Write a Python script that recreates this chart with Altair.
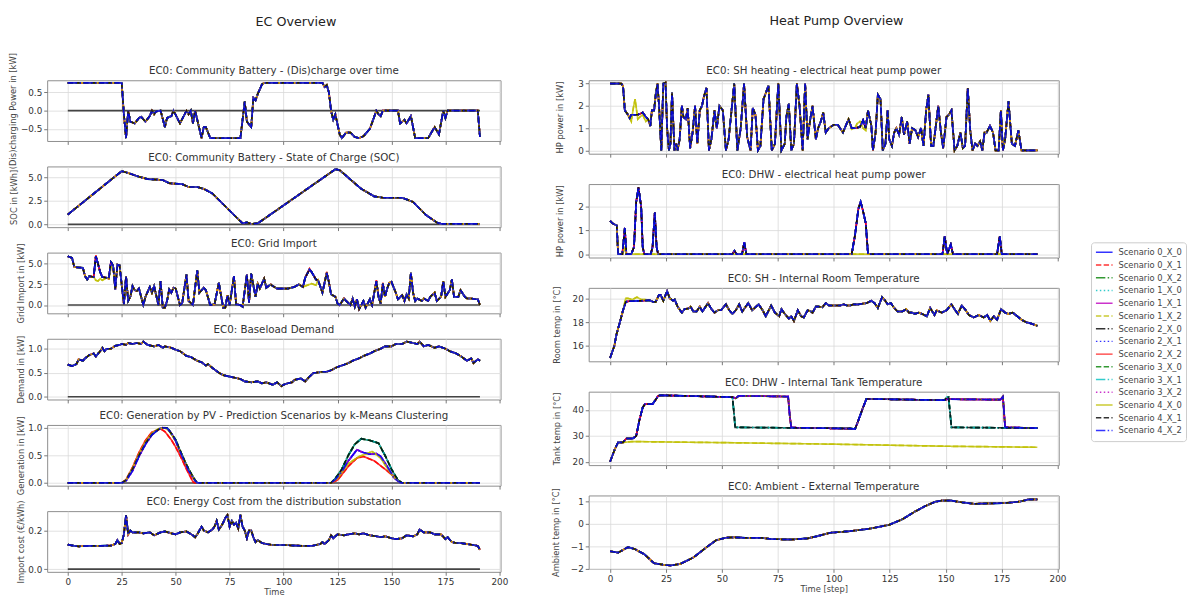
import altair as alt
import pandas as pd

SCENARIOS = ["Scenario 0_X_0", "Scenario 0_X_1", "Scenario 0_X_2",
             "Scenario 1_X_0", "Scenario 1_X_1", "Scenario 1_X_2",
             "Scenario 2_X_0", "Scenario 2_X_1", "Scenario 2_X_2",
             "Scenario 3_X_0", "Scenario 3_X_1", "Scenario 3_X_2",
             "Scenario 4_X_0", "Scenario 4_X_1", "Scenario 4_X_2"]
LINE_COLORS = ["#0000ff", "#ff0000", "#008000", "#00bfbf", "#bf00bf", "#bfbf00", "#000000",
               "#0000ff", "#ff0000", "#008000", "#00bfbf", "#bf00bf", "#bfbf00", "#000000", "#0000ff"]
SOLID = [1, 0]
DASHED = [5.5, 2.4]
DASHDOT = [9.6, 2.4, 1.5, 2.4]
DOTTED = [1.5, 2.5]
LINE_DASHES = [SOLID, DASHED, DASHDOT, DOTTED, SOLID, DASHED, DASHDOT, DOTTED,
               SOLID, DASHED, DASHDOT, DOTTED, SOLID, DASHED, DASHDOT]

X_TICKS = [0, 25, 50, 75, 100, 125, 150, 175, 200]
X_DOMAIN = [-9.55, 200.55]
ZERO_T = [0, 191]
ZERO_Y = [0, 0]

SUPER_TITLES = ["EC Overview", "Heat Pump Overview"]

YELLOW_SCEN = ["Scenario 1_X_2", "Scenario 4_X_0"]
RED_SCEN = ["Scenario 0_X_1", "Scenario 2_X_2"]
PV_HIGH_SCEN = ["Scenario 0_X_2", "Scenario 1_X_0", "Scenario 2_X_0", "Scenario 3_X_0",
                "Scenario 3_X_1", "Scenario 4_X_1"]
TANK_EARLY_SCEN = ["Scenario 0_X_2", "Scenario 1_X_0", "Scenario 2_X_0", "Scenario 3_X_1",
                   "Scenario 4_X_1"]

# ---------------- EC overview ----------------
BATTERY = [(0, 0.76), (25, 0.76), (26, -0.1), (27, -0.75), (28, 0.0), (29, -0.3), (31, -0.35),
           (33, -0.2), (34, -0.17), (36, -0.3), (38, -0.15), (39, 0.0), (40, -0.1), (41, -0.02),
           (43, 0.0), (45, -0.45), (46, -0.2), (48, -0.15), (49, 0.0), (52, -0.35), (55, 0.0),
           (56, -0.1), (57, 0.0), (58, -0.35), (59, 0.0), (61, -0.5), (62, -0.75), (63, -0.45),
           (64, -0.45), (66, -0.75), (80, -0.75), (81, -0.25), (82, 0.25), (83, -0.3), (85, -0.45),
           (86, 0.35), (87, 0.28), (88, 0.45), (90, 0.72), (91, 0.76), (118, 0.76), (119, 0.65),
           (120, 0.7), (121, 0.5), (122, 0.0), (123, -0.25), (124, -0.1), (126, -0.65), (127, -0.75),
           (129, -0.6), (131, -0.6), (133, -0.72), (135, -0.75), (137, -0.7), (140, -0.5), (143, 0.0),
           (144, -0.1), (145, -0.15), (146, 0.0), (153, 0.0), (154, -0.35), (156, -0.25), (157, -0.35),
           (159, -0.15), (161, -0.75), (167, -0.75), (170, -0.45), (172, -0.65), (174, 0.0),
           (175, -0.2), (176, 0.0), (190, 0.0), (191, -0.72)]

SOC = [(0, 1.05), (25, 5.7), (28, 5.5), (33, 5.1), (37, 4.85), (44, 4.75), (47, 4.4), (53, 4.3),
       (56, 4.0), (60, 4.0), (63, 3.8), (67, 3.3), (81, 0.1), (83, 0.2), (85, 0.05), (88, 0.1),
       (124, 5.9), (126, 5.8), (130, 5.0), (136, 3.8), (142, 3.0), (146, 2.85), (155, 2.85),
       (160, 2.4), (166, 1.0), (171, 0.2), (173, 0.05), (191, 0.05)]

GRID = [(0, 5.9), (2, 5.7), (3, 4.6), (7, 4.5), (8, 3.5), (9, 3.1), (10, 3.5), (12, 3.4), (13, 5.9),
        (14, 5.0), (15, 4.0), (16, 3.4), (18, 3.3), (19, 3.2), (20, 5.2), (21, 4.8), (22, 1.9),
        (23, 4.9), (24, 4.8), (26, 0.1), (27, 3.5), (28, 0.5), (29, 1.0), (30, 2.3), (31, 1.8),
        (32, 1.7), (33, 2.0), (35, 0.0), (36, 1.0), (38, 2.2), (39, 1.5), (40, 2.3), (42, 0.0),
        (43, 2.9), (44, -0.3), (45, -0.3), (46, 0.5), (47, 1.9), (48, 1.5), (49, 2.1), (50, 2.0),
        (52, 0.0), (53, 0.2), (55, 3.7), (56, 0.5), (58, 0.0), (60, 4.2), (61, 1.5), (63, 2.1),
        (64, 1.8), (66, 0.0), (68, 0.1), (70, 2.7), (72, -0.3), (73, -0.3), (74, 1.2), (75, 0.0),
        (77, 3.5), (78, 0.1), (80, 0.0), (81, -0.2), (83, 3.7), (84, 0.3), (85, 3.8), (87, 1.0),
        (88, 2.6), (89, 2.0), (91, 3.2), (92, 2.1), (94, 2.5), (95, 2.3), (97, 2.0), (102, 2.0),
        (105, 2.2), (107, 2.5), (109, 2.2), (110, 3.3), (112, 4.3), (113, 4.0), (115, 3.1),
        (116, 3.0), (118, 1.5), (120, 3.9), (121, 2.8), (122, 1.3), (124, 1.0), (125, 0.2),
        (126, 0.0), (128, 0.8), (129, 0.5), (131, 0.0), (132, 0.8), (133, -0.2), (134, 0.7),
        (135, -0.5), (137, 0.5), (138, -0.3), (139, 0.2), (140, 0.7), (141, 0.0), (143, 2.9),
        (144, 1.0), (145, 0.2), (146, 2.6), (147, 1.0), (148, 2.0), (149, 2.7), (150, 2.8),
        (152, 1.5), (153, 0.7), (155, 1.2), (156, 0.5), (157, 1.3), (158, 0.8), (159, 3.9),
        (160, 1.5), (161, 0.5), (162, 0.8), (164, 0.5), (165, 0.8), (167, 0.5), (168, 1.0),
        (170, 1.5), (171, 0.5), (173, 1.0), (174, 2.9), (175, 1.0), (177, 1.8), (178, 3.1),
        (179, 1.0), (181, 1.0), (182, 1.8), (184, 1.0), (185, 0.8), (187, 0.8), (189, 0.7),
        (190, 0.7), (191, 0.0)]
GRID_YELLOW_CHANGES = [(13, 3.0), (14, 2.9), (15, 3.2), (16, 3.0), (20, 4.5), (110, 2.3),
                       (112, 2.5), (113, 2.6), (115, 2.4)]
GRID_RED_CHANGES = [(13, 6.0), (112, 4.4), (120, 4.0), (143, 3.0), (146, 2.7)]

DEMAND = [(0, 0.67), (2, 0.64), (4, 0.68), (5, 0.78), (7, 0.75), (8, 0.8), (10, 0.87), (12, 0.9),
          (13, 0.84), (15, 0.95), (16, 1.02), (17, 0.95), (18, 1.0), (20, 1.0), (22, 1.06),
          (24, 1.08), (25, 1.1), (27, 1.08), (28, 1.12), (30, 1.1), (32, 1.12), (34, 1.1),
          (35, 1.15), (37, 1.08), (40, 1.05), (42, 1.08), (44, 1.02), (45, 1.05), (48, 1.02),
          (50, 0.98), (52, 0.95), (55, 0.85), (57, 0.83), (60, 0.75), (62, 0.72), (64, 0.65),
          (65, 0.68), (67, 0.6), (70, 0.5), (72, 0.45), (75, 0.42), (77, 0.4), (80, 0.37),
          (82, 0.32), (85, 0.3), (88, 0.32), (90, 0.28), (92, 0.3), (95, 0.25), (97, 0.3),
          (99, 0.22), (100, 0.25), (102, 0.28), (104, 0.3), (105, 0.35), (108, 0.38), (110, 0.32),
          (112, 0.42), (114, 0.5), (115, 0.5), (118, 0.52), (120, 0.52), (122, 0.55), (124, 0.6),
          (125, 0.62), (127, 0.65), (130, 0.7), (132, 0.75), (135, 0.8), (137, 0.85), (140, 0.9),
          (142, 0.95), (145, 1.0), (147, 1.05), (150, 1.05), (152, 1.1), (155, 1.1), (157, 1.15),
          (160, 1.12), (162, 1.1), (163, 1.15), (165, 1.05), (167, 1.08), (170, 1.02), (172, 1.05),
          (175, 1.0), (177, 0.95), (180, 0.9), (182, 0.85), (185, 0.75), (187, 0.8), (188, 0.7),
          (190, 0.78), (191, 0.75)]

PV_HIGH = [(0, 0.0), (25, 0.0), (27, 0.05), (30, 0.25), (33, 0.5), (36, 0.72), (39, 0.88),
           (42, 0.97), (44, 1.0), (46, 1.0), (47, 0.95), (50, 0.78), (53, 0.5), (56, 0.25),
           (59, 0.05), (60, 0.0), (122, 0.0), (124, 0.08), (127, 0.25), (130, 0.5), (133, 0.7),
           (136, 0.8), (140, 0.77), (144, 0.72), (147, 0.5), (150, 0.25), (153, 0.05), (155, 0.0),
           (191, 0.0)]
PV_MID = [(0, 0.0), (25, 0.0), (27, 0.04), (30, 0.22), (33, 0.48), (36, 0.7), (39, 0.87),
          (42, 0.97), (44, 1.0), (46, 0.99), (48, 0.9), (50, 0.76), (53, 0.48), (56, 0.22),
          (59, 0.04), (60, 0.0), (122, 0.0), (124, 0.06), (127, 0.2), (130, 0.4), (134, 0.6),
          (137, 0.55), (140, 0.52), (143, 0.53), (145, 0.48), (148, 0.3), (151, 0.1), (154, 0.0),
          (191, 0.0)]
PV_YELLOW = [(0, 0.0), (25, 0.0), (27, 0.05), (30, 0.26), (33, 0.52), (36, 0.74), (39, 0.9),
             (42, 0.98), (45, 1.0), (47, 0.94), (50, 0.76), (53, 0.49), (56, 0.24), (59, 0.04),
             (60, 0.0), (122, 0.0), (125, 0.08), (130, 0.35), (135, 0.48), (138, 0.52),
             (141, 0.57), (145, 0.45), (150, 0.15), (154, 0.0), (191, 0.0)]
PV_RED = [(0, 0.0), (25, 0.0), (27, 0.06), (30, 0.28), (33, 0.55), (36, 0.77), (39, 0.92),
          (43, 0.98), (45, 0.93), (48, 0.78), (50, 0.65), (53, 0.42), (55, 0.25), (58, 0.02),
          (59, 0.0), (122, 0.0), (125, 0.05), (130, 0.3), (134, 0.45), (137, 0.48), (142, 0.4),
          (148, 0.22), (153, 0.05), (155, 0.0), (191, 0.0)]

COST = [(0, 0.127), (3, 0.12), (5, 0.118), (10, 0.12), (15, 0.12), (20, 0.122), (22, 0.13),
        (23, 0.15), (24, 0.13), (25, 0.135), (26, 0.18), (27, 0.28), (28, 0.18), (29, 0.2),
        (30, 0.19), (33, 0.19), (35, 0.185), (38, 0.19), (40, 0.175), (43, 0.19), (45, 0.195),
        (48, 0.185), (50, 0.18), (52, 0.19), (55, 0.195), (58, 0.175), (59, 0.165), (60, 0.18),
        (62, 0.22), (63, 0.2), (65, 0.19), (67, 0.205), (68, 0.22), (69, 0.25), (70, 0.205),
        (71, 0.22), (72, 0.24), (73, 0.265), (74, 0.28), (75, 0.22), (76, 0.25), (77, 0.23),
        (78, 0.24), (79, 0.21), (80, 0.28), (81, 0.22), (82, 0.2), (83, 0.16), (84, 0.2),
        (85, 0.2), (86, 0.165), (87, 0.14), (88, 0.15), (90, 0.135), (92, 0.13), (95, 0.125),
        (100, 0.125), (105, 0.122), (110, 0.12), (113, 0.12), (115, 0.125), (117, 0.13),
        (118, 0.14), (119, 0.13), (121, 0.15), (122, 0.175), (123, 0.16), (125, 0.18),
        (128, 0.175), (130, 0.18), (133, 0.185), (135, 0.18), (137, 0.185), (140, 0.175),
        (143, 0.17), (145, 0.165), (147, 0.17), (150, 0.16), (152, 0.155), (155, 0.16),
        (157, 0.175), (160, 0.17), (162, 0.18), (163, 0.205), (165, 0.19), (168, 0.19),
        (170, 0.18), (173, 0.18), (175, 0.155), (176, 0.165), (178, 0.14), (180, 0.135),
        (182, 0.135), (185, 0.13), (188, 0.125), (190, 0.12), (191, 0.1)]

# ---------------- Heat pump overview ----------------
SH_POWER = [(0, 3.0), (5, 3.0), (5.8, 2.9), (6.6, 1.8), (7.7, 1.65), (8.8, 1.45), (9.5, 1.6),
            (12.4, 1.6), (14.6, 1.7), (16, 1.5), (17, 1.4), (18, 1.1), (18.7, 1.8), (19.7, 1.8),
            (20.4, 2.5), (21.2, 3.0), (21.9, 2.0), (22.9, 0.0), (23.8, 3.0), (24.8, 3.05),
            (25.5, 1.0), (26.3, 0.0), (27, 0.3), (27.7, 2.6), (28.8, 0.0), (29.6, 0.3), (30.2, 0.0),
            (31.1, 0.5), (32.1, 2.0), (32.8, 1.5), (33.9, 1.4), (34.7, 1.9), (35.8, 0.1), (36.9, 0.8),
            (38, 2.0), (39, 0.3), (40.1, 1.8), (41.1, 2.0), (41.9, 2.4), (43.1, 2.8), (44.2, 0.0),
            (45.3, 0.5), (46.7, 1.8), (47.7, 1.0), (48.9, 2.0), (50.4, 1.8), (51.8, 0.0), (53, 0.5),
            (55.5, 3.0), (56.9, 0.0), (58.4, 1.0), (59.9, 3.0), (61.3, 0.6), (62.8, 0.0), (63.8, 1.9),
            (65, 1.6), (66.1, 0.0), (67.2, 0.2), (68.6, 2.3), (70.8, 2.9), (72.3, 0.0), (73.7, 0.3),
            (75.2, 3.0), (76.6, 0.0), (78.1, 0.3), (78.8, 1.5), (79.9, 2.1), (81, 0.0), (82.2, 0.3),
            (83.5, 3.0), (84.7, 2.0), (86.1, 0.0), (87.2, 3.0), (88.3, 0.5), (89.5, 1.4), (90.5, 2.0),
            (92, 0.5), (93, 1.0), (94.2, 1.3), (95.3, 1.7), (96.4, 0.8), (97.8, 1.0), (100, 1.15),
            (101.8, 1.15), (104.1, 0.8), (106.6, 1.4), (108, 1.0), (109.5, 1.0), (111.7, 1.05),
            (113.1, 1.35), (114.3, 1.0), (115.3, 1.8), (116.8, 1.1), (117.5, 0.0), (118.7, 0.8),
            (119.7, 2.5), (120.9, 2.3), (121.9, 0.0), (123.1, 0.3), (124.1, 1.8), (124.8, 0.5),
            (126, 0.2), (127, 0.8), (128, 1.0), (129.2, 0.7), (130.4, 1.5), (131.4, 0.7),
            (132.8, 1.3), (133.9, 0.3), (135, 1.0), (136.5, 0.9), (137.7, 0.6), (139, 1.0),
            (140.1, 0.2), (141.3, 1.8), (142.3, 2.5), (143.5, 0.2), (144.5, 0.2), (145.5, 1.0),
            (146.7, 2.0), (147.9, 0.8), (148.9, 0.1), (150.4, 1.5), (151.4, 1.6), (152.6, 1.8),
            (154, 0.0), (155.2, 0.2), (156.6, 0.8), (157.7, 0.1), (158.7, 0.2), (159.9, 2.8),
            (161, 0.9), (162, 0.0), (163.2, 0.3), (164.2, 0.2), (165.4, 0.4), (166.4, 0.0),
            (167.4, 0.8), (168.3, 0.8), (169.8, 1.1), (171.2, 0.8), (172.3, 0.0), (173.7, 0.0),
            (174.7, 1.8), (175.6, 0.0), (176.6, 0.5), (178.1, 2.2), (179.6, 0.3), (181, 0.2),
            (182.5, 0.9), (183.9, 0.0), (191, 0.0)]
SH_YELLOW_CHANGES = [(9.5, 1.3), (10.4, 1.9), (11.2, 2.3), (12.4, 1.4), (13.3, 1.5), (14.6, 1.6),
                     (16, 1.3), (20.4, 2.6), (108, 0.95), (110.4, 1.2), (111.7, 1.3), (113.1, 1.0),
                     (114.3, 0.9)]

DHW_POWER = [(0, 1.4), (1, 1.3), (2, 1.25), (3, 1.2), (3.6, 0.0), (5.5, 0.0), (6.6, 1.1), (7.3, 0.0),
             (9.5, 0.0), (10.7, 0.3), (11.7, 2.2), (12.7, 2.8), (13.9, 2.0), (14.6, 0.3), (15.3, 0.0),
             (18.2, 0.0), (19, 0.3), (20, 1.75), (20.8, 0.3), (21.5, 0.0), (54.7, 0.0), (55.6, 0.15),
             (56.5, 0.0), (59, 0.0), (60, 0.5), (60.9, 0.0), (108, 0.0), (109.5, 0.8), (111, 1.9),
             (112, 2.2), (113.1, 1.8), (114.3, 1.3), (115.3, 0.0), (148.6, 0.0), (149.6, 0.75),
             (150.7, 0.0), (151.5, 0.2), (152.3, 0.4), (153.3, 0.0), (173, 0.0), (174.2, 0.75),
             (175.1, 0.0), (191, 0.0)]
DHW_YELLOW = [(0, 1.4), (1, 1.3), (2, 1.25), (3, 1.2), (3.6, 0.0), (5.5, 0.0), (6.6, 0.25),
              (7.3, 0.0), (191, 0.0)]

ROOM = [(0, 15.0), (1.9, 16.0), (2.9, 17.0), (4.4, 18.0), (5.8, 19.0), (7, 19.7), (8, 19.75),
        (13.9, 19.8), (17.5, 19.85), (19.4, 19.7), (20.4, 19.7), (21.9, 20.3), (22.6, 20.3),
        (23.8, 19.8), (25.5, 20.6), (26.7, 20.0), (28.2, 19.8), (28.9, 19.9), (30.2, 19.3),
        (32.1, 18.8), (33.3, 19.1), (35, 19.15), (36, 19.3), (37.2, 18.9), (38.7, 18.9),
        (40.1, 19.3), (41.3, 18.9), (43.8, 19.6), (45.3, 19.1), (46.7, 18.8), (48.2, 19.0),
        (49.6, 19.0), (51.8, 19.5), (53.3, 19.0), (54.7, 18.7), (56.2, 19.0), (57.7, 19.5),
        (59.1, 18.9), (61.8, 19.6), (63.5, 19.0), (66.4, 19.5), (68.2, 19.0), (69.6, 18.5),
        (72, 19.4), (73.7, 18.8), (75.6, 18.5), (76.6, 19.1), (78.1, 18.7), (79.9, 18.3),
        (81, 18.5), (82.2, 18.1), (83.9, 19.0), (85.4, 18.5), (86.6, 18.4), (88.3, 19.0),
        (89.8, 18.9), (90.5, 18.8), (92, 19.3), (93.4, 19.3), (94.9, 19.25), (96.4, 19.6),
        (97.8, 19.4), (100, 19.4), (102.9, 19.4), (104.4, 19.5), (105.8, 19.4), (107.3, 19.4),
        (109, 19.5), (111, 19.5), (114.6, 19.6), (116.8, 19.8), (118.2, 19.6), (119.7, 19.2),
        (121.6, 20.1), (123, 19.8), (124.1, 19.5), (125.5, 19.6), (127, 19.2), (128.5, 18.9),
        (130.7, 18.9), (132.4, 19.1), (133.6, 18.8), (135, 18.8), (136.2, 18.7), (138, 18.8),
        (139.4, 18.7), (141.6, 18.5), (143.1, 19.2), (145, 18.6), (146, 19.0), (148.2, 18.8),
        (150.4, 19.0), (152.6, 19.5), (154.3, 19.0), (155.5, 18.7), (157.2, 19.4), (159, 19.0),
        (160.4, 18.6), (162.6, 18.4), (164.8, 18.6), (167, 18.4), (168.6, 18.6), (170, 18.1),
        (171.5, 18.5), (173, 18.2), (174.8, 19.1), (176.6, 18.8), (178, 18.7), (180, 18.8),
        (182, 18.5), (184, 18.2), (186, 18.0), (188, 17.9), (191, 17.7)]
ROOM_YELLOW_CHANGES = [(7, 20.0), (8, 20.0), (10, 19.9), (12, 20.1), (13.9, 19.9), (16, 19.9)]

TANK_LATE = [(0, 20.0), (2.2, 25.0), (3.6, 27.5), (5.8, 27.5), (7.3, 29.0), (10.2, 29.0), (11.7, 30.0),
             (13.1, 36.0), (14.6, 41.0), (15.6, 42.3), (19, 42.3), (20.4, 44.0), (21.5, 45.5),
             (22.6, 45.7), (54.7, 45.0), (56.2, 44.5), (57.5, 45.5), (79.6, 45.2), (80.3, 38.0),
             (81, 33.2), (107.3, 32.8), (109.5, 32.6), (111, 36.0), (113.1, 41.0), (114.6, 44.3),
             (149.6, 43.8), (150.8, 44.2), (174.5, 44.0), (175.6, 45.2), (176.6, 33.3), (191, 33.0)]
TANK_EARLY = [(0, 20.0), (2.2, 25.0), (3.6, 27.5), (5.8, 27.5), (7.3, 29.0), (10.2, 29.0), (11.7, 30.0),
              (13.1, 36.0), (14.6, 41.0), (15.6, 42.3), (19, 42.3), (20.4, 44.0), (21.5, 45.5),
              (22.6, 45.7), (54.7, 45.0), (55.5, 38.0), (55.9, 33.3), (107.3, 32.9), (109.5, 32.6),
              (111, 36.0), (113.1, 41.0), (114.6, 44.3), (149.6, 43.8), (150.5, 45.0), (151.3, 45.0),
              (152.6, 33.3), (191, 33.0)]
TANK_LOW = [(0, 20.0), (2.2, 25.0), (3.6, 27.5), (5.8, 27.5), (10, 27.8), (50, 27.4), (100, 26.8),
            (150, 26.0), (191, 25.6)]

AMBIENT = [(0, -1.22), (3.6, -1.28), (8, -1.04), (11, -1.12), (15.3, -1.35), (19.7, -1.75),
           (24.1, -1.82), (27, -1.85), (31.4, -1.78), (37.2, -1.5), (43, -1.05), (47.4, -0.73),
           (51.8, -0.62), (55.5, -0.6), (60.6, -0.63), (67.9, -0.63), (72.3, -0.68), (81, -0.7),
           (88.3, -0.65), (92.7, -0.55), (98.5, -0.4), (107.3, -0.33), (116, -0.22), (124.8, -0.05),
           (130.7, 0.2), (136.5, 0.55), (140.9, 0.78), (145.3, 0.97), (148.2, 1.02), (152.6, 1.02),
           (158.4, 0.93), (162.8, 0.88), (170, 0.9), (177.4, 0.92), (183.2, 0.98), (186.9, 1.07),
           (191, 1.08)]


def with_changes(base, changes):
    merged = dict(base)
    merged.update(dict(changes))
    return sorted(merged.items())


def frame(variants, groups):
    rows = []
    for s in SCENARIOS:
        key = "base"
        for name, members in groups.items():
            if s in members:
                key = name
        for t, y in variants[key]:
            rows.append({"scenario": s, "t": t, "y": y})
    return pd.DataFrame(rows)


LEGEND = alt.Legend(title=None, orient="none", legendX=1066, legendY=165.5,
                    symbolType="stroke", symbolSize=289, symbolStrokeWidth=1.5,
                    symbolOpacity=0.8, labelFontSize=8.5, labelFont="DejaVu Sans",
                    labelColor="#444444", labelOffset=5, strokeColor="#cccccc",
                    fillColor="white", padding=4, cornerRadius=3, rowPadding=0,
                    clipHeight=12.3, labelLimit=200)


def text_layer(label, x, y, size, color):
    return alt.Chart(pd.DataFrame({"label": [label]})).mark_text(
        font="DejaVu Sans", fontSize=size, color=color, align="center", baseline="middle"
    ).encode(text="label:N", x=alt.value(x), y=alt.value(y))


def panel(df, title, y_title, y_dom, y_vals, y_fmt, width, height, x_labels, x_title, zero,
          title_pad, header=None):
    xenc = alt.X("t:Q", scale=alt.Scale(domain=X_DOMAIN, nice=False, zero=False),
                 axis=alt.Axis(values=X_TICKS, labels=x_labels, title=x_title, format="d"))
    yenc = alt.Y("y:Q", scale=alt.Scale(domain=y_dom, nice=False, zero=False),
                 axis=alt.Axis(values=y_vals, format=y_fmt, title=y_title, titlePadding=title_pad))
    lines = alt.Chart(df).mark_line(strokeWidth=1.7, opacity=0.8, clip=True).encode(
        x=xenc, y=yenc,
        color=alt.Color("scenario:N", scale=alt.Scale(domain=SCENARIOS, range=LINE_COLORS),
                        legend=LEGEND),
        strokeDash=alt.StrokeDash("scenario:N", scale=alt.Scale(domain=SCENARIOS, range=LINE_DASHES),
                                  legend=LEGEND),
    )
    layers = []
    if zero:
        zdf = pd.DataFrame({"t": ZERO_T, "y": ZERO_Y})
        layers.append(alt.Chart(zdf).mark_line(color="#444444", strokeWidth=1.6).encode(x=xenc, y=yenc))
    layers.append(lines)
    layers.append(text_layer(title, width / 2, -9, 10.5, "#333333"))
    if header is not None:
        layers.append(text_layer(header[0], header[1], header[2], 13, "#222222"))
    return alt.layer(*layers).properties(width=width, height=height)


LW, LH = 463, 62
RW, RH = 480, 75

left_specs = [
    (frame({"base": BATTERY}, {}), "EC0: Community Battery - (Dis)charge over time",
     "(Dis)charging Power in [kW]", [-0.83, 0.83], [-0.5, 0.0, 0.5], ".1f", 3),
    (frame({"base": SOC}, {}), "EC0: Community Battery - State of Charge (SOC)",
     "SOC in [kWh]", [-0.3, 6.2], [0.0, 2.5, 5.0], ".1f", 9.5),
    (frame({"base": GRID, "yellow": with_changes(GRID, GRID_YELLOW_CHANGES),
            "red": with_changes(GRID, GRID_RED_CHANGES)},
           {"yellow": YELLOW_SCEN, "red": RED_SCEN}), "EC0: Grid Import",
     "Grid Import in [kW]", [-1.0, 6.35], [0.0, 2.5, 5.0], ".1f", 2),
    (frame({"base": DEMAND}, {}), "EC0: Baseload Demand",
     "Demand in [kW]", [-0.058, 1.208], [0.0, 0.5, 1.0], ".1f", 2),
    (frame({"base": PV_MID, "high": PV_HIGH, "yellow": PV_YELLOW, "red": PV_RED},
           {"high": PV_HIGH_SCEN, "yellow": YELLOW_SCEN, "red": RED_SCEN}),
     "EC0: Generation by PV - Prediction Scenarios by k-Means Clustering",
     "Generation in [kW]", [-0.05, 1.05], [0.0, 0.5, 1.0], ".1f", 2),
    (frame({"base": COST}, {}), "EC0: Energy Cost from the distribution substation",
     "Import cost (\u20ac/kWh)", [-0.014, 0.3], [0.0, 0.2], ".1f", 2),
]
right_specs = [
    (frame({"base": SH_POWER, "yellow": with_changes(SH_POWER, SH_YELLOW_CHANGES)},
           {"yellow": YELLOW_SCEN}), "EC0: SH heating - electrical heat pump power",
     "HP power in [kW]", [-0.15, 3.15], [0, 1, 2, 3], "d", 13.5),
    (frame({"base": DHW_POWER, "yellow": DHW_YELLOW}, {"yellow": YELLOW_SCEN}),
     "EC0: DHW - electrical heat pump power", "HP power in [kW]", [-0.14, 2.94], [0, 1, 2], "d", 13.5),
    (frame({"base": ROOM, "yellow": with_changes(ROOM, ROOM_YELLOW_CHANGES)},
           {"yellow": YELLOW_SCEN}), "EC0: SH - Internal Room Temperature",
     "Room temp in [\u00b0C]", [14.72, 20.88], [16, 18, 20], "d", 11),
    (frame({"base": TANK_LATE, "early": TANK_EARLY, "low": TANK_LOW},
           {"early": TANK_EARLY_SCEN, "low": YELLOW_SCEN}), "EC0: DHW - Internal Tank Temperature",
     "Tank temp in [\u00b0C]", [18.7, 47.1], [20, 30, 40], "d", 11),
    (frame({"base": AMBIENT}, {}), "EC0: Ambient - External Temperature",
     "Ambient temp in [\u00b0C]", [-2.0, 1.25], [-2, -1, 0, 1], "d", 10),
]

left_panels = []
for i, (df, ttl, yt, yd, yv, yf, tp) in enumerate(left_specs):
    last = i == len(left_specs) - 1
    hdr = (SUPER_TITLES[0], 254, -59) if i == 0 else None
    left_panels.append(panel(df, ttl, yt, yd, yv, yf, LW, LH, last, "Time" if last else None, True,
                             tp, hdr))

right_panels = []
for i, (df, ttl, yt, yd, yv, yf, tp) in enumerate(right_specs):
    last = i == len(right_specs) - 1
    hdr = (SUPER_TITLES[1], 253, -60.5) if i == 0 else None
    right_panels.append(panel(df, ttl, yt, yd, yv, yf, RW, RH, last, "Time [step]" if last else None,
                              False, tp, hdr))

left = alt.vconcat(*left_panels, spacing=26, bounds="flush")
right = alt.vconcat(*right_panels, spacing=31, bounds="flush")

chart = alt.hconcat(left, right, spacing=43).properties(
    padding={"left": 0, "top": 0.5, "right": 0, "bottom": 0}
).configure(font="DejaVu Sans").configure_view(
    stroke="#8c8c8c", strokeWidth=1
).configure_axis(
    labelFont="DejaVu Sans", titleFont="DejaVu Sans", labelFontSize=9, titleFontSize=8.5,
    titleFontWeight="normal", labelColor="#333333", titleColor="#444444", tickColor="#555555",
    tickSize=3.5, tickWidth=0.8, domain=False, gridColor="#d9d9d9", gridWidth=0.8,
    labelPadding=2
).configure_axisX(titlePadding=1.5)

chart.save("out.html", embed_options={"renderer": "svg", "actions": False})
